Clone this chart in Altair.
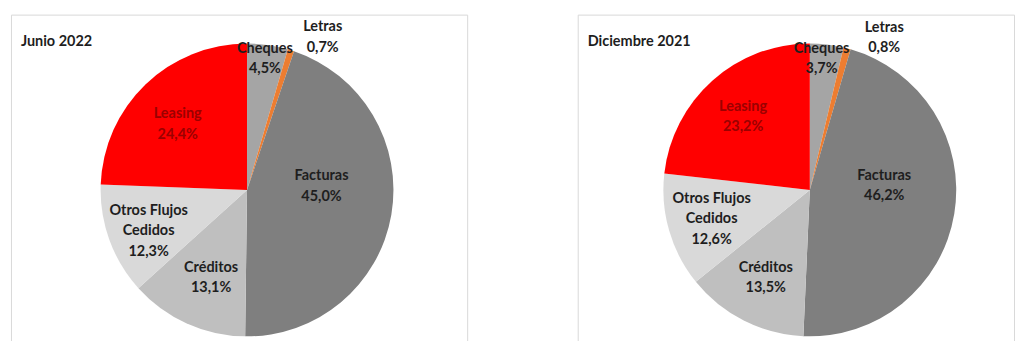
import altair as alt
import pandas as pd

categories = ["Cheques", "Letras", "Facturas", "Créditos", "Otros Flujos Cedidos", "Leasing"]
label_names = ["Cheques", "Letras", "Facturas", "Créditos", "Otros Flujos\nCedidos", "Leasing"]
jun_2022 = [4.5, 0.7, 45.0, 13.1, 12.3, 24.4]
dic_2021 = [3.7, 0.8, 46.2, 13.5, 12.6, 23.2]
colors = ["#A5A5A5", "#ED7D31", "#7F7F7F", "#BFBFBF", "#D9D9D9", "#FF0000"]

# label placement (layout only): angle offset in degrees from slice middle, radius in px
# (the position is that of the label's first line)
layout_jun = {"Cheques": (-0.9, 143), "Letras": (7.5, 180), "Facturas": (-20, 76),
              "Créditos": (0.5, 86), "Otros Flujos Cedidos": (8, 101), "Leasing": (1.4, 103)}
layout_dic = {"Cheques": (-1.9, 142), "Letras": (9.9, 179), "Facturas": (-20, 76),
              "Créditos": (2.6, 90), "Otros Flujos Cedidos": (11, 99), "Leasing": (3, 107)}


def panel(values, title, cx, cy, r, layout, width):
    df = pd.DataFrame({"cat": categories, "name": label_names, "value": values,
                       "idx": list(range(len(categories)))})
    df["doff"] = [layout[c][0] for c in categories]
    df["lr"] = [layout[c][1] for c in categories]
    base = alt.Chart(df)
    arcs = base.mark_arc(radius=r).encode(
        theta=alt.Theta("value:Q", stack=True),
        color=alt.Color("cat:N", scale=alt.Scale(domain=categories, range=colors), legend=None),
        order=alt.Order("idx:Q"),
        x=alt.value(cx), y=alt.value(cy),
    )
    lab = base.transform_window(
        cum="sum(value)", sort=[alt.SortField("idx")], frame=[None, 0]
    ).transform_calculate(
        ang="((datum.cum - datum.value/2)/100*360 + datum.doff) * PI / 180",
    ).transform_calculate(
        px=f"{cx} + datum.lr * sin(datum.ang)",
        py=f"{cy} - datum.lr * cos(datum.ang)",
        txt="datum.name + '\\n' + replace(format(datum.value, '.1f'), '.', ',') + '%'",
    )
    common = dict(align="center", baseline="middle", fontSize=14.5, fontWeight="bold",
                  font="Lato", lineBreak="\n", lineHeight=20.5)
    enc = dict(x=alt.X("px:Q", scale=None, axis=None), y=alt.Y("py:Q", scale=None, axis=None),
               text="txt:N")
    lab_dark = lab.transform_filter("datum.cat != 'Leasing'").mark_text(color="#1E1E1E", **common).encode(**enc)
    lab_red = lab.transform_filter("datum.cat == 'Leasing'").mark_text(color="#9B0000", **common).encode(**enc)
    ttl = alt.Chart(pd.DataFrame({"t": [title]})).mark_text(
        align="left", baseline="middle", fontSize=14.5, fontWeight="bold", font="Lato", color="#1E1E1E"
    ).encode(x=alt.value(10), y=alt.value(28), text="t:N")
    return alt.layer(arcs, lab_dark, lab_red, ttl).properties(width=width, height=330)


p1 = panel(jun_2022, "Junio 2022", 237, 176, 147, layout_jun, 458)
p2 = panel(dic_2021, "Diciembre 2021", 233, 176, 147, layout_dic, 438)

chart = alt.hconcat(p1, p2, spacing=109).properties(
    padding={"left": 10, "top": 13, "right": 0, "bottom": 0},
    background="white",
).configure_view(stroke="#D9D9D9", strokeWidth=1)

chart.save("out.html", embed_options={"renderer": "svg", "actions": False})
